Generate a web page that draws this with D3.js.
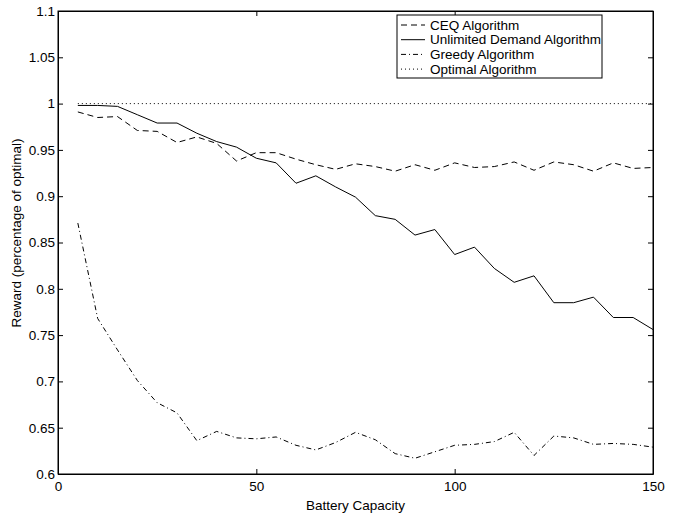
<!DOCTYPE html>
<html>
<head>
<meta charset="utf-8">
<script src="https://cdn.jsdelivr.net/npm/d3@7"></script>
<style>
  body { margin: 0; background: #fff; }
  svg { display: block; font-family: "Liberation Sans", Arial, sans-serif; }
</style>
</head>
<body>
<svg width="677" height="513"></svg>
<script>
var capacity = [5, 10, 15, 20, 25, 30, 35, 40, 45, 50, 55, 60, 65, 70, 75,
                80, 85, 90, 95, 100, 105, 110, 115, 120, 125, 130, 135, 140, 145, 150];

var ceq = [0.991, 0.985, 0.986, 0.971, 0.970, 0.958, 0.964, 0.957, 0.938, 0.947,
           0.947, 0.940, 0.934, 0.929, 0.935, 0.932, 0.927, 0.934, 0.928, 0.936,
           0.931, 0.932, 0.937, 0.928, 0.937, 0.934, 0.927, 0.936, 0.930, 0.931];

var unlimited = [0.998, 0.998, 0.997, 0.988, 0.979, 0.979, 0.968, 0.959, 0.953, 0.941,
                 0.936, 0.914, 0.922, 0.910, 0.899, 0.879, 0.875, 0.858, 0.864, 0.837,
                 0.845, 0.822, 0.807, 0.814, 0.785, 0.785, 0.791, 0.769, 0.769, 0.756];

var greedy = [0.871, 0.768, 0.734, 0.701, 0.677, 0.666, 0.636, 0.646, 0.639, 0.638,
              0.640, 0.631, 0.626, 0.634, 0.645, 0.637, 0.622, 0.617, 0.624, 0.631,
              0.632, 0.635, 0.645, 0.620, 0.641, 0.639, 0.632, 0.633, 0.632, 0.629];

var optimal = [1, 1, 1, 1, 1, 1, 1, 1, 1, 1, 1, 1, 1, 1, 1,
               1, 1, 1, 1, 1, 1, 1, 1, 1, 1, 1, 1, 1, 1, 1];

var xTicks = [0, 50, 100, 150];
var yTicks = [0.6, 0.65, 0.7, 0.75, 0.8, 0.85, 0.9, 0.95, 1, 1.05, 1.1];

var series = [
    { name: "CEQ Algorithm", values: ceq, dash: "6,4" },
    { name: "Unlimited Demand Algorithm", values: unlimited, dash: null },
    { name: "Greedy Algorithm", values: greedy, dash: "5,3,1,3" },
    { name: "Optimal Algorithm", values: optimal, dash: "1,3" }
];

var plotL = 58, plotT = 11, plotR = 653, plotB = 474;

var x = d3.scaleLinear().domain([0, 150]).range([plotL, plotR]);
var y = d3.scaleLinear().domain([0.6, 1.1]).range([plotB, plotT]);

var svg = d3.select("svg");

function fmt(d) { return String(+d.toFixed(2)); }

// axes, ticks pointing inward like matlab
svg.append("g")
    .attr("transform", "translate(0," + plotB + ")")
    .call(d3.axisBottom(x).tickValues(xTicks).tickFormat(fmt)
        .tickSize(-5).tickSizeOuter(0).tickPadding(7));
svg.append("g")
    .attr("transform", "translate(0," + plotT + ")")
    .call(d3.axisTop(x).tickValues(xTicks).tickFormat("")
        .tickSize(-5).tickSizeOuter(0));
svg.append("g")
    .attr("transform", "translate(" + plotL + ",0)")
    .call(d3.axisLeft(y).tickValues(yTicks).tickFormat(fmt)
        .tickSize(-5).tickSizeOuter(0).tickPadding(3));
svg.append("g")
    .attr("transform", "translate(" + plotR + ",0)")
    .call(d3.axisRight(y).tickValues(yTicks).tickFormat("")
        .tickSize(-5).tickSizeOuter(0));

svg.selectAll(".tick text")
    .style("font-size", "13.5px")
    .style("fill", "#000");
svg.selectAll(".tick line, .domain").attr("stroke", "#000");

svg.append("rect")
    .attr("x", plotL).attr("y", plotT)
    .attr("width", plotR - plotL).attr("height", plotB - plotT)
    .attr("fill", "none").attr("stroke", "#000");

var line = d3.line()
    .x((d, i) => x(capacity[i]))
    .y(d => y(d));

svg.append("g").selectAll("path")
    .data(series)
    .enter()
        .append("path")
        .attr("d", s => line(s.values))
        .attr("fill", "none")
        .attr("stroke", "#000")
        .attr("stroke-width", 1)
        .attr("stroke-dasharray", s => s.dash);

// labels
svg.append("text")
    .attr("x", (plotL + plotR) / 2).attr("y", 510)
    .attr("text-anchor", "middle")
    .style("font-size", "13.5px")
    .text("Battery Capacity");

svg.append("text")
    .attr("transform", "translate(21,233) rotate(-90)")
    .attr("text-anchor", "middle")
    .style("font-size", "13.5px")
    .text("Reward (percentage of optimal)");

// legend
var legend = svg.append("g").attr("transform", "translate(397,15)");
legend.append("rect")
    .attr("width", 205).attr("height", 63)
    .attr("fill", "#fff").attr("stroke", "#000");

var items = legend.selectAll("g.item")
    .data(series)
    .enter()
        .append("g")
        .attr("class", "item")
        .attr("transform", (s, i) => "translate(0," + (10 + i * 14.7) + ")");

items.append("line")
    .attr("x1", 4).attr("x2", 28)
    .attr("stroke", "#000")
    .attr("stroke-dasharray", s => s.dash);

items.append("text")
    .attr("x", 33).attr("dy", "0.35em")
    .style("font-size", "13.5px")
    .text(s => s.name);
</script>
</body>
</html>
